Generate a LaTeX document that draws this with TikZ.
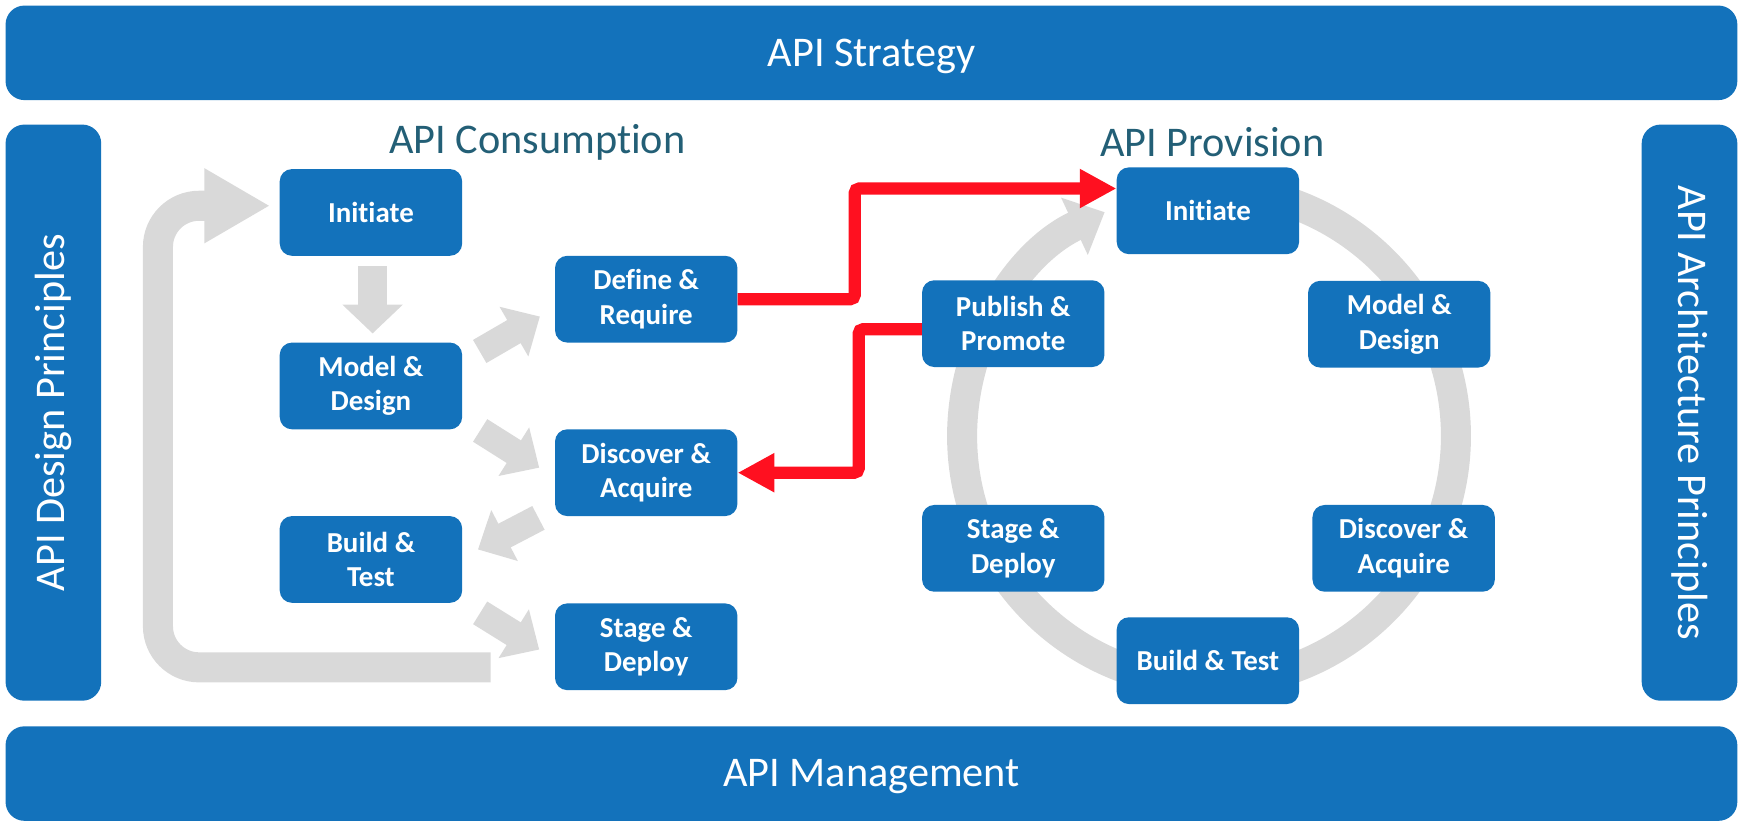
\documentclass[tikz,border=0pt]{standalone}
\usepackage{fontspec}
\setmainfont{Carlito}[Ligatures=NoCommon]
\usetikzlibrary{arrows.meta,calc}
\definecolor{apiblue}{RGB}{19,114,187}
\definecolor{apigrey}{RGB}{217,217,217}
\definecolor{apired}{RGB}{255,16,32}
\definecolor{apiteal}{RGB}{35,95,118}
\begin{document}
\begin{tikzpicture}[x=1pt,y=-1pt,
  box/.style={fill=apiblue, rounded corners=11pt, minimum width=164pt, minimum height=78pt,
    text=white, align=center, font=\fontsize{26}{31}\selectfont\bfseries, inner sep=0pt},
  bar/.style={fill=apiblue, rounded corners=17pt, text=white,
    font=\fontsize{38}{46}\selectfont, inner sep=0pt},
  ttl/.style={text=apiteal, font=\fontsize{38}{46}\selectfont, inner sep=0pt},
  grey/.style={draw=apigrey},
  diag/.style={draw=apigrey, line width=24pt, -{Triangle[length=27pt,width=50pt]}},
  redarrow/.style={draw=apired, line width=11pt, rounded corners=4pt,
    -{Triangle[length=33pt,width=33pt]}}]
\useasboundingbox (0,0) rectangle (1568,743);

% frame bars
\node[bar, minimum width=1557pt, minimum height=85pt] (strategy) at (783.5,47.5) {\raisebox{-3pt}[\height][\depth]{API Strategy}};
\node[bar, minimum width=1557pt, minimum height=85pt] (mgmt) at (783.5,695.5) {\raisebox{-3pt}[\height][\depth]{API Management}};
\node[bar, rotate=90, minimum width=518pt, minimum height=86pt] (design) at (48,371) {API Design Principles};
\node[bar, rotate=-90, minimum width=518pt, minimum height=86pt] (arch) at (1519,371) {API Architecture Principles};

% titles
\node[ttl] (tcons) at (483,128) {API Consumption};
\node[ttl] (tprov) at (1090,128) {API Provision};

% provision ring
\coordinate (ringc) at (1087,392);
\draw[grey, line width=27pt, -{Triangle[length=30pt,width=55pt]}]
  (ringc) ++(-90:222) arc[start angle=-90, end angle=245, radius=222];

% consumption boxes
\node[box] (cInit)  at (333.5,191) {Initiate};
\node[box] (cModel) at (333.5,347) {Model \&\\Design};
\node[box] (cBuild) at (333.5,503) {Build \&\\Test};
\node[box] (cDef)   at (581,269) {Define \&\\Require};
\node[box] (cDisc)  at (581,425) {Discover \&\\Acquire};
\node[box] (cStage) at (581,581.5) {Stage \&\\Deploy};

% provision boxes
\node[box] (pInit)  at (1086,189.5) {Initiate};
\node[box] (pPub)   at (911,291) {Publish \&\\Promote};
\node[box] (pModel) at (1258,291.5) {Model \&\\Design};
\node[box] (pStage) at (911,493) {Stage \&\\Deploy};
\node[box] (pDisc)  at (1262,493) {Discover \&\\Acquire};
\node[box] (pBuild) at (1086,594) {Build \& Test};

% consumption grey arrows
\draw[grey, line width=26pt, -{Triangle[length=26pt,width=53pt]}]
  ($(cInit.south)+(1.5,9)$) -- ($(cModel.north)+(1.5,-8)$);
\coordinate (loopEnd) at (441,600);
\draw[grey, line width=27pt, rounded corners=37pt, -{Triangle[length=59pt,width=63pt]}]
  (loopEnd) -- (142,600) -- (142,185) -- ($(cInit.west)+(-8.5,-6)$);
\draw[diag] ($(cModel.east)+(15.6,-31)$) -- ($(cDef.west)+(-13.4,15.6)$);
\draw[diag] ($(cModel.east)+(16,40)$) -- ($(cDisc.west)+(-14,-4.5)$);
\draw[diag] ($(cDisc.west)+(-14.7,40.6)$) -- ($(cBuild.east)+(14,-9)$);
\draw[diag] ($(cBuild.east)+(16,48)$) -- ($(cStage.west)+(-14,2.5)$);

% red connectors
\coordinate (r1) at (768.5,169.5);
\draw[redarrow] (cDef.east) -| (r1) -- (r1 -| pInit.west);
\coordinate (r2) at (772,296);
\coordinate (r3) at (772,425);
\draw[redarrow] (r2 -| pPub.west) -- (r2) -- (r3) -- (cDisc.east);
\end{tikzpicture}
\end{document}
